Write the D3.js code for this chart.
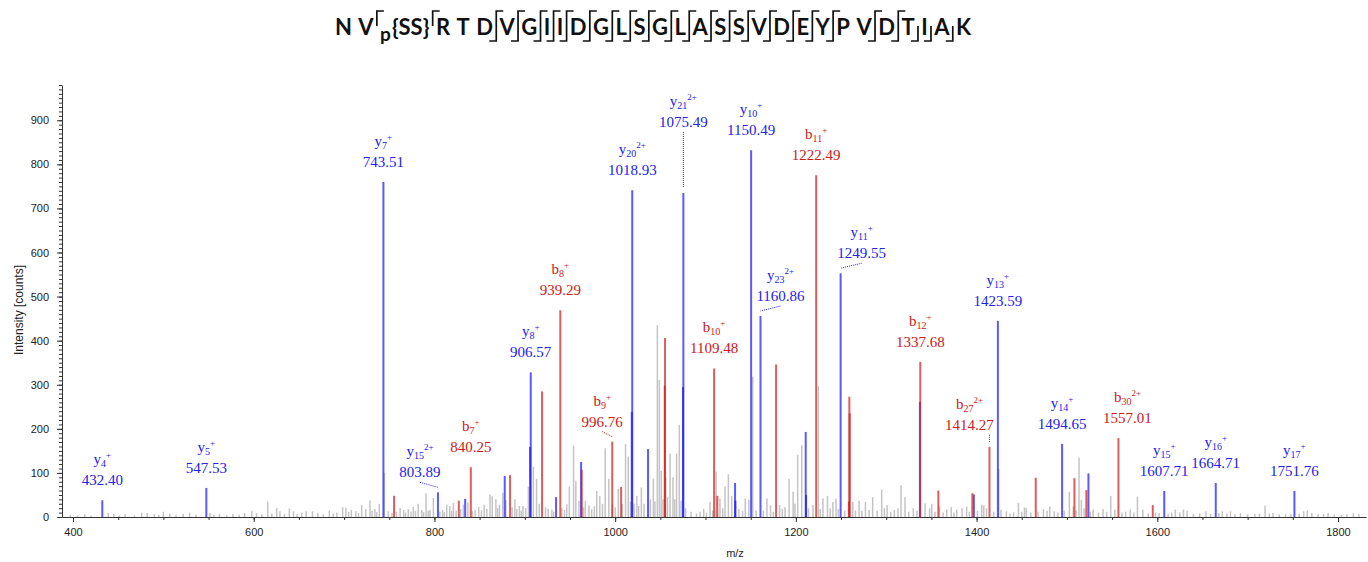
<!DOCTYPE html>
<html>
<head>
<meta charset="utf-8">
<script src="https://cdn.jsdelivr.net/npm/d3@7"></script>
<style>
  body { margin: 0; background: #fff; }
  svg { display: block; }
</style>
</head>
<body>
<div id="chart"></div>
<script>
// peptide sequence shown in the title, with fragment marks after token i
const sequenceTokens = ["N","V","p{SS}","R","T","D","V","G","I","I","D","G","L","S","G","L","A","S","S","V","D","E","Y","P","V","D","T","I","A","K"];
const topMarksAfter = [1,2,5,6,7,8,9,10,11,12,13,14,15,16,17,18,19,20,21,22,24,25];
const bottomMarksAfter = [5,6,7,8,9,10,11,12,13,14,15,16,17,18,19,20,21,22,24,25,26,27,28];

// annotated fragment peaks
const labeledIon = ["y","y","y","y","b","y","b","b","y","y","b","y","y","b","y","b","b","y","y","b","y","y","y"];
const labeledNum = [4,5,7,15,7,8,8,9,20,21,10,10,23,11,11,12,27,13,14,30,15,16,17];
const labeledCharge = [1,1,1,2,1,1,1,1,2,2,1,1,2,1,1,1,2,1,1,2,1,1,1];
const labeledMz = [432.40,547.53,743.51,803.89,840.25,906.57,939.29,996.76,1018.93,1075.49,1109.48,1150.49,1160.86,1222.49,1249.55,1337.68,1414.27,1423.59,1494.65,1557.01,1607.71,1664.71,1751.76];
const labeledIntensity = [38,66,760,56,113,328,469,171,741,735,337,832,456,775,553,352,159,445,166,179,59,77,59];

// matched but unlabeled peaks [m/z, intensity]
const matchedY = [[834,41],[877.8,93],[905.8,159],[934.6,45],[962.3,125],[1018.4,238],[1036.4,154],[1075.1,295],[1132.7,77],[1133.1,37],[1210.9,193],[1211.3,50],[1337.3,261],[1397,51],[1523.8,99]];
const matchedB = [[755.3,48],[827,37],[883.7,95],[919.1,285],[963,107],[1006.6,68],[1055.2,406],[1054.9,298],[1113.1,48],[1178.1,346],[1259.2,273],[1259.6,235],[1258.7,35],[1357.7,60],[1395.3,54],[1465.5,89],[1508.3,88],[1521.5,61],[1595,27]];

// unmatched peaks [m/z, intensity]
const otherPeaks = [[397,5],[405,4],[413,7],[420,3],[439,9],[445,7],[451,4],[457.6,7],[468,4],[476,10],[482,9],[490,7],[495,5],[500,12],[507,7],[514,5],[522,7],[529,10],[536,5],[551.6,9],[556,5],[562,7],[570,4],[577,7],[584,5],[590,9],[597.8,14],[603,9],[609,6],[615.5,35],[620,8],[625.4,20],[629,13],[634,7],[639.4,19],[644,13],[648,7],[653,10],[658,13],[665,13],[671,9],[677,6],[683.7,15],[688,8],[692,10],[698.4,22],[702,21],[705,12],[708,16],[713,13],[716,9],[719.5,27],[724,18],[728.7,38],[731,14],[734,18],[736,11],[739,30],[744.5,100],[749,13],[753,9],[758,12],[762,21],[766,16],[768,10],[771,18],[774,12],[776.6,23],[779,14],[782,30],[786,16],[788,11],[790.7,54],[793,14],[795,16],[798.8,43],[806,12],[809,16],[811,11],[813.6,28],[817,25],[819,14],[821,32],[824,15],[829,18],[832,28],[837,33],[842,14],[845,16],[849,23],[852,15],[855,28],[858,18],[861.5,51],[864,47],[868,40],[870,20],[872,28],[875.6,55],[879,38],[886,22],[889,40],[891,18],[894,25],[896,15],[898,25],[901,20],[904,69],[909.5,114],[913,86],[916,30],[923,22],[926,19],[930,17],[932,12],[941,20],[944,16],[946.4,29],[949.3,69],[954,162],[956.5,82],[960,37],[965,22],[967,37],[971,26],[974,18],[977,24],[979.6,59],[983,48],[986,30],[989,156],[993,87],[997,28],[1000,22],[1003.5,64],[1008,30],[1011.5,165],[1014.5,137],[1017,35],[1021,30],[1024,48],[1026,25],[1029,67],[1032,30],[1039,40],[1042.3,87],[1044,35],[1046.7,435],[1048.9,311],[1051,105],[1053,40],[1056,90],[1058,45],[1060.8,144],[1064,90],[1066,40],[1068,144],[1071,209],[1073,37],[1078,20],[1084,12],[1090,8],[1094,12],[1098,19],[1101,10],[1105,34],[1108,15],[1111.7,103],[1116,42],[1119,20],[1121.6,69],[1125.3,97],[1129,48],[1137,18],[1141,14],[1144,42],[1148,39],[1152.3,318],[1156,15],[1164,14],[1168,42],[1172,27],[1175,12],[1182,27],[1185,18],[1188,22],[1192.5,86],[1197,57],[1199,30],[1202,141],[1206.5,163],[1214,20],[1219,27],[1224.9,297],[1227,18],[1230,42],[1235,48],[1238,20],[1241,34],[1244.5,42],[1247,18],[1254,14],[1263,34],[1266,15],[1270,37],[1273,14],[1277,34],[1281,16],[1285,45],[1290,14],[1295,62],[1298,20],[1301,27],[1305,12],[1309,16],[1313,20],[1316.4,72],[1320.8,45],[1325,12],[1330,20],[1334,14],[1343,31],[1348,20],[1350.4,30],[1354,12],[1359,24],[1363,10],[1367,17],[1372,22],[1375,10],[1378,17],[1384,20],[1389,24],[1392,12],[1401,14],[1405.7,28],[1408,26],[1411,20],[1419,12],[1424.5,109],[1427,17],[1433,13],[1437,8],[1441,10],[1446.3,32],[1450,12],[1453,22],[1455,20],[1460,10],[1468,12],[1474,18],[1478,14],[1481,24],[1486,13],[1490,10],[1497,14],[1502.7,57],[1507,24],[1510,16],[1513.4,135],[1516,39],[1519,20],[1526,12],[1529,17],[1535,10],[1540,18],[1544,12],[1548.5,48],[1553,17],[1561,10],[1565,12],[1570,17],[1574,10],[1578,46],[1584,17],[1590,8],[1598,10],[1602,9],[1612,8],[1616,10],[1620,17],[1625,10],[1629,17],[1633,15],[1640,7],[1647,8],[1654,13],[1659,7],[1668,9],[1672,13],[1677,8],[1681,13],[1686,7],[1692,9],[1700,6],[1708,7],[1713,8],[1719.3,26],[1724,8],[1728,9],[1735,6],[1742,7],[1748,6],[1757,8],[1762,13],[1766,15],[1771,9],[1778,6],[1784,7],[1789,9],[1796,6],[1804,5],[1810,6],[1817,9],[1823,6]];

// axis ticks
const xMajorTicks = [400,600,800,1000,1200,1400,1600,1800];
const yMajorTicks = [0,100,200,300,400,500,600,700,800,900];

// label nudges (layout only), by label index
const labelNudge = {3:{dx:-18,dy:0,lead:true}, 7:{dx:-10,dy:0,lead:true}, 9:{dx:0,dy:-51,lead:true},
                    12:{dx:20,dy:0,lead:true}, 14:{dx:21,dy:0,lead:true}, 16:{dx:-20,dy:-2,lead:true}, 19:{dx:9,dy:0,lead:false}};

const W = 1368, H = 562;
const blue = "#1a1aff", red = "#d21e1e";
const blueText = "#2222e8", redText = "#cc1a1a";

const svg = d3.select("#chart").append("svg").attr("width", W).attr("height", H);

const x = d3.scaleLinear().domain([387.8, 1831]).range([62, 1366]);
const y = d3.scaleLinear().domain([0, 980]).range([517, 85]);

// axes
const axisFont = "'Liberation Sans', Arial, sans-serif";
svg.append("g").attr("transform", "translate(0,517)")
   .call(d3.axisBottom(x).tickValues(d3.range(400, 1831, 50)).tickSize(3).tickSizeOuter(0).tickFormat(""))
   .call(g => g.select(".domain").remove())
   .selectAll("line").attr("stroke", "#333");
svg.append("g").attr("transform", "translate(0,517)")
   .call(d3.axisBottom(x).tickValues(xMajorTicks).tickSize(5).tickSizeOuter(0).tickPadding(6).tickFormat(d3.format("d")))
   .call(g => g.select(".domain").attr("stroke", "#333"))
   .call(g => g.selectAll("line").attr("stroke", "#333"))
   .selectAll("text").attr("font-family", axisFont).attr("font-size", 11).attr("fill", "#222");

svg.append("g").attr("transform", "translate(62,0)")
   .call(d3.axisLeft(y).tickValues(d3.range(0, 981, 10)).tickSize(3).tickSizeOuter(0).tickFormat(""))
   .call(g => g.select(".domain").remove())
   .selectAll("line").attr("stroke", "#333");
svg.append("g").attr("transform", "translate(62,0)")
   .call(d3.axisLeft(y).tickValues(yMajorTicks).tickSize(5).tickSizeOuter(0).tickPadding(8))
   .call(g => g.select(".domain").attr("stroke", "#333"))
   .call(g => g.selectAll("line").attr("stroke", "#333"))
   .selectAll("text").attr("font-family", axisFont).attr("font-size", 11).attr("fill", "#222");

svg.append("text").attr("x", 735).attr("y", 557).attr("text-anchor", "middle")
   .attr("font-family", axisFont).attr("font-size", 11).attr("fill", "#222").text("m/z");
svg.append("text").attr("transform", "translate(23,310) rotate(-90)").attr("text-anchor", "middle")
   .attr("font-family", axisFont).attr("font-size", 12).attr("fill", "#222").text("Intensity [counts]");

// peaks
const peaks = svg.append("g");
peaks.selectAll(".noise").data(otherPeaks).enter().append("line")
   .attr("x1", d => x(d[0])).attr("x2", d => x(d[0]))
   .attr("y1", y(0)).attr("y2", d => y(d[1]))
   .attr("stroke", "#c4c4c4").attr("stroke-width", 1.5);

const colored = matchedY.map(d => ({mz: d[0], v: d[1], c: blue}))
  .concat(matchedB.map(d => ({mz: d[0], v: d[1], c: red})))
  .concat(labeledMz.map((m, i) => ({mz: m, v: labeledIntensity[i], c: labeledIon[i] === "y" ? blue : red})));
peaks.selectAll(".ion").data(colored).enter().append("line")
   .attr("x1", d => x(d.mz)).attr("x2", d => x(d.mz))
   .attr("y1", y(0)).attr("y2", d => y(d.v))
   .attr("stroke", d => d.c).attr("stroke-opacity", 0.72).attr("stroke-width", 2);

// labels
const labelFont = "'Liberation Serif', 'Times New Roman', serif";
labeledMz.forEach((m, i) => {
  const nudge = labelNudge[i] || {dx: 0, dy: 0, lead: false};
  const px = x(m), top = y(labeledIntensity[i]);
  const lx = px + nudge.dx;
  const base = top - 15 + nudge.dy;
  const col = labeledIon[i] === "y" ? blueText : redText;
  const t = svg.append("text").attr("x", lx).attr("y", base - 21).attr("text-anchor", "middle")
     .attr("font-family", labelFont).attr("fill", col);
  t.append("tspan").attr("font-size", 15).text(labeledIon[i]);
  t.append("tspan").attr("font-size", 10).attr("dy", 3).text(labeledNum[i]);
  t.append("tspan").attr("font-size", 9).attr("dy", -9).text(labeledCharge[i] === 1 ? "+" : labeledCharge[i] + "+");
  svg.append("text").attr("x", lx).attr("y", base).attr("text-anchor", "middle")
     .attr("font-family", labelFont).attr("font-size", 15).attr("fill", col).text(m.toFixed(2));
  if (nudge.lead) {
    svg.append("line")
       .attr("x1", nudge.dy < 0 ? px : lx).attr("y1", base + 5)
       .attr("x2", px).attr("y2", top - 5)
       .attr("stroke", col).attr("stroke-width", 1).attr("stroke-dasharray", "1,1");
  }
});

// title: sequence with fragment marks
const title = svg.append("g");
const titleFont = "Lato, 'Open Sans', sans-serif";
const tBase = 35, tTop = 11, tBottom = 41, tMid = 26;
const gap = 6.5, hook = 7;
let cx = 0;
sequenceTokens.forEach((tok, i) => {
  if (tok === "p{SS}") {
    const p = title.append("text").attr("x", cx).attr("y", tBase + 6).attr("font-family", titleFont)
       .attr("font-size", 19).attr("font-weight", 700).attr("fill", "#111").text("p");
    cx += p.node().getComputedTextLength() + 1;
    const s = title.append("text").attr("x", cx).attr("y", tBase).attr("font-family", titleFont)
       .attr("font-size", 22).attr("font-weight", 700).attr("fill", "#111").text("{SS}");
    cx += s.node().getComputedTextLength();
  } else {
    const t = title.append("text").attr("x", cx).attr("y", tBase).attr("font-family", titleFont)
       .attr("font-size", 22).attr("font-weight", 700).attr("fill", "#111").text(tok);
    cx += t.node().getComputedTextLength();
  }
  if (i === sequenceTokens.length - 1) return;
  const hasTop = topMarksAfter.includes(i), hasBot = bottomMarksAfter.includes(i);
  if (!hasTop && !hasBot) { cx += gap; return; }
  const mx = cx + gap / 2;
  if (hasTop) {
    title.append("path").attr("d", `M${mx},${tMid} V${tTop} H${mx + hook}`)
       .attr("fill", "none").attr("stroke", "#111").attr("stroke-width", 1.7);
  }
  if (hasBot) {
    title.append("path").attr("d", `M${mx},${tMid} V${tBottom} H${mx - hook}`)
       .attr("fill", "none").attr("stroke", "#111").attr("stroke-width", 1.7);
  }
  cx = mx + gap / 2;
});
title.attr("transform", `translate(${653 - cx / 2},0)`);
</script>
</body>
</html>
